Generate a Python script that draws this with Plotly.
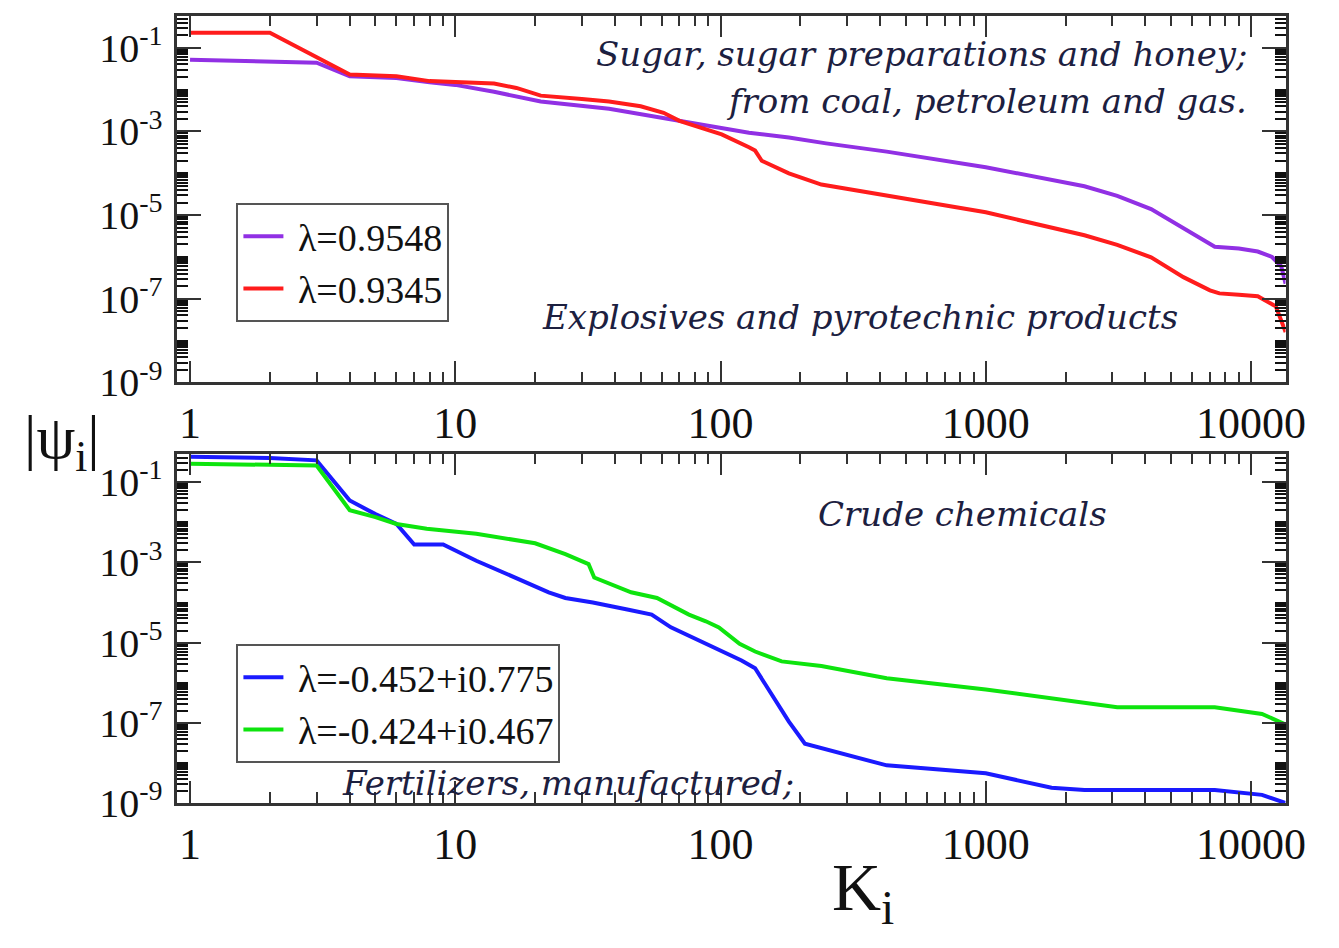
import plotly.graph_objects as go

W, H = 1339, 948

# ---------------- data ----------------
k_purple = [1, 2, 3, 4, 5, 6, 8, 10, 14, 21, 38, 61, 70, 101, 128, 181, 250, 423,
            1000, 2355, 3130, 4200, 5560, 6800, 7300, 9000, 10600, 12000, 13000, 13500]
psi_purple = [5.2e-2, 4.8e-2, 4.4e-2, 2.1e-2, 2.0e-2, 1.9e-2, 1.5e-2, 1.3e-2, 8.9e-3,
              5.2e-3, 3.5e-3, 2.1e-3, 1.8e-3, 1.2e-3, 9.3e-4, 7.2e-4, 5.2e-4, 3.3e-4,
              1.4e-4, 4.9e-5, 2.9e-5, 1.4e-5, 4.9e-6, 2.2e-6, 1.75e-6, 1.6e-6, 1.35e-6,
              1.0e-6, 6.0e-7, 2.3e-7]

k_red = [1, 2, 4, 6, 8, 10, 14, 17, 21, 30, 38, 50, 61, 70, 101, 128, 135, 143, 181,
         240, 423, 1000, 2355, 3130, 4200, 5560, 7000, 7600, 9000, 10600, 12400, 13500]
psi_red = [2.3e-1, 2.3e-1, 2.3e-2, 2.1e-2, 1.6e-2, 1.5e-2, 1.4e-2, 1.1e-2, 7.2e-3,
           6.0e-3, 5.2e-3, 4.0e-3, 2.8e-3, 1.8e-3, 8.5e-4, 4.2e-4, 3.5e-4, 2.0e-4,
           1.0e-4, 5.4e-5, 3.0e-5, 1.17e-5, 3.3e-6, 1.95e-6, 9.8e-7, 3.3e-7, 1.6e-7,
           1.35e-7, 1.25e-7, 1.15e-7, 6.6e-8, 1.6e-8]

k_blue = [1, 2, 3, 4, 5, 6, 7, 9, 12, 16, 20, 22.5, 26, 33, 45, 55, 65, 80, 101, 120,
          135, 155, 181, 208, 300, 423, 1000, 1770, 2355, 7300, 11000, 13500]
psi_blue = [4.3e-1, 4.0e-1, 3.5e-1, 3.5e-2, 1.6e-2, 9.1e-3, 2.8e-3, 2.8e-3, 1.1e-3,
            4.7e-4, 2.4e-4, 1.8e-4, 1.3e-4, 1.0e-4, 6.6e-5, 5.0e-5, 2.4e-5, 1.26e-5,
            6.3e-6, 3.6e-6, 2.3e-6, 5.6e-7, 1.07e-7, 3.0e-8, 1.6e-8, 8.7e-9, 5.5e-9,
            2.4e-9, 2.1e-9, 2.1e-9, 1.6e-9, 1.0e-9]

k_green = [1, 2, 3, 4, 5, 6, 7.8, 12, 20, 26, 31.8, 33.4, 46, 57.6, 66.5, 76, 88, 98.6,
           118, 135, 170, 240, 423, 1000, 3130, 7300, 11000, 13500]
psi_green = [2.9e-1, 2.75e-1, 2.6e-1, 2.0e-2, 1.35e-2, 9.1e-3, 6.9e-3, 5.2e-3, 3.0e-3,
             1.6e-3, 9.1e-4, 4.2e-4, 1.8e-4, 1.3e-4, 7.9e-5, 5.0e-5, 3.4e-5, 2.4e-5,
             9.3e-6, 6.0e-6, 3.4e-6, 2.6e-6, 1.3e-6, 6.8e-7, 2.45e-7, 2.45e-7, 1.66e-7,
             9.1e-8]

labels_top = ["λ=0.9548", "λ=0.9345"]
labels_bot = ["λ=-0.452+i0.775", "λ=-0.424+i0.467"]
colors = {"purple": "#9130e4", "red": "#ff1c1c", "blue": "#1a1aff", "green": "#0ee40e"}

y_major = [1e-1, 1e-3, 1e-5, 1e-7, 1e-9]
y_major_text = ["10<sup>-1</sup>", "10<sup>-3</sup>", "10<sup>-5</sup>", "10<sup>-7</sup>",
                "10<sup>-9</sup>"]
x_major = [1, 10, 100, 1000, 10000]
x_major_text = ["1", "10", "100", "1000", "10000"]

# ---------------- helpers ----------------
def px_x(x):
    return x / W

def px_y(y):
    return 1 - y / H

y_minor = [m * 10.0 ** d for d in range(-10, 1) for m in range(1, 10)
           if not (m == 1 and 10.0 ** d in y_major)]
x_minor = [m * 10.0 ** d for d in range(0, 5) for m in range(2, 10)]

SERIF = "Liberation Serif"
ITAL = "DejaVu Serif"
LINE_COL = "#333333"
PAD = "\u00a0"

fig = go.Figure()
fig.add_trace(go.Scatter(x=k_purple, y=psi_purple, mode="lines", name=PAD + labels_top[0],
                         line=dict(color=colors["purple"], width=4), xaxis="x", yaxis="y",
                         legend="legend"))
fig.add_trace(go.Scatter(x=k_red, y=psi_red, mode="lines", name=PAD + labels_top[1],
                         line=dict(color=colors["red"], width=4), xaxis="x", yaxis="y",
                         legend="legend"))
fig.add_trace(go.Scatter(x=k_blue, y=psi_blue, mode="lines", name=PAD + labels_bot[0],
                         line=dict(color=colors["blue"], width=4), xaxis="x2", yaxis="y2",
                         legend="legend2"))
fig.add_trace(go.Scatter(x=k_green, y=psi_green, mode="lines", name=PAD + labels_bot[1],
                         line=dict(color=colors["green"], width=4), xaxis="x2", yaxis="y2",
                         legend="legend2"))

xdom = [px_x(180), px_x(1305)]

def xaxis_cfg(anchor):
    return dict(type="log", range=[-0.048, 4.13], domain=xdom, anchor=anchor,
                showline=True, linewidth=2.5, linecolor=LINE_COL, mirror="allticks",
                ticks="inside", ticklen=22, tickwidth=2, tickcolor=LINE_COL,
                tickvals=x_major, ticktext=x_major_text, showgrid=False, zeroline=False,
                tickfont=dict(family=SERIF, size=44, color="#111"),
                minor=dict(tickvals=x_minor, ticks="inside", ticklen=11, tickwidth=2,
                           tickcolor=LINE_COL, showgrid=False))

def yaxis_cfg(anchor, dom, top):
    return dict(type="log", range=[-9, top], domain=dom, anchor=anchor,
                showline=True, linewidth=2.5, linecolor=LINE_COL, mirror="allticks",
                ticks="inside", ticklen=24, tickwidth=2, tickcolor=LINE_COL,
                tickvals=y_major, ticktext=y_major_text, showgrid=False, zeroline=False,
                tickfont=dict(family=SERIF, size=40, color="#111"), ticklabelstandoff=4,
                minor=dict(tickvals=y_minor, ticks="inside", ticklen=11, tickwidth=1.5,
                           tickcolor="#111", showgrid=False))

leg_common = dict(bgcolor="white", bordercolor="#555555", borderwidth=2,
                  font=dict(family=SERIF, size=38, color="#111"), xanchor="left",
                  yanchor="top", tracegroupgap=0, itemwidth=40)

ann_font = dict(family=ITAL, size=34, color="#1c2040")

def note(text, x, y, xanchor="left"):
    return dict(text="<i>" + text + "</i>", x=px_x(x), y=px_y(y), xref="paper",
                yref="paper", xanchor=xanchor, yanchor="middle", showarrow=False,
                font=ann_font)

fig.update_layout(
    width=W, height=H, autosize=False, margin=dict(l=0, r=0, t=0, b=0),
    paper_bgcolor="white", plot_bgcolor="white", showlegend=True,
    xaxis=xaxis_cfg("y"),
    yaxis=yaxis_cfg("x", [px_y(392), px_y(16)], -0.23),
    xaxis2=xaxis_cfg("y2"),
    yaxis2=yaxis_cfg("x2", [px_y(823), px_y(465)], -0.29),
    legend=dict(x=px_x(240), y=px_y(208), **leg_common),
    legend2=dict(x=px_x(240), y=px_y(660), **leg_common),
    annotations=[
        note("Sugar, sugar preparations and honey;", 1268, 55, "right"),
        note("from coal, petroleum and gas.", 1268, 103, "right"),
        note("Explosives and pyrotechnic products", 548, 325),
        note("Crude chemicals", 828, 527),
        note("Fertilizers, manufactured;", 345, 802),
        dict(text="|ψ<sub>i</sub>|", x=px_x(22), y=px_y(452), xref="paper", yref="paper",
             xanchor="left", yanchor="middle", showarrow=False,
             font=dict(family=SERIF, size=62, color="#111")),
        dict(text="K<sub>i</sub>", x=px_x(843), y=px_y(914), xref="paper", yref="paper",
             xanchor="left", yanchor="middle", showarrow=False,
             font=dict(family=SERIF, size=68, color="#111")),
    ],
)

fig.write_html("out.html")
